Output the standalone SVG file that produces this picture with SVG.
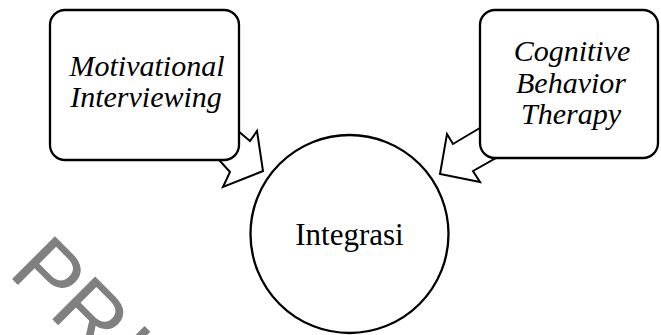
<svg xmlns="http://www.w3.org/2000/svg" width="661" height="335" viewBox="0 0 661 335">
<style>
.box{fill:#fff;stroke:#000;stroke-width:2.3}
.arr{fill:#fff;stroke:#000;stroke-width:2;stroke-linejoin:miter}
.it{font-family:"Liberation Serif","Times New Roman",serif;font-style:italic;font-size:30px;fill:#000;text-anchor:middle}
.rg{font-family:"Liberation Serif","Times New Roman",serif;font-size:31px;fill:#000;text-anchor:middle}
.wm{font-family:"Liberation Sans",Arial,sans-serif;font-size:88px;fill:#808080}
</style>
<rect width="661" height="335" fill="#fff"/>
<text class="wm" transform="translate(7,274) rotate(45)"><tspan x="0">P</tspan><tspan x="57">R</tspan><tspan x="126">I</tspan></text>
<g id="connectors">
<polygon class="arr" points="225,120 250,141 257,131 263,171 223,187 230,172 200,139"/>
<polygon class="arr" points="500,116 453,144 447,134 440,174 480,182 473,171 510,150"/>
</g>
<g id="motivational-interviewing">
<rect class="box" x="50" y="10" width="189" height="150" rx="15"/>
<text class="it" x="147" y="76">Motivational</text>
<text class="it" x="146" y="107">Interviewing</text>
</g>
<g id="cbt">
<rect class="box" x="480" y="10" width="178" height="148" rx="15"/>
<text class="it" x="572" y="61">Cognitive</text>
<text class="it" x="571" y="93">Behavior</text>
<text class="it" x="571" y="124">Therapy</text>
</g>
<g id="integrasi">
<circle class="box" cx="349.5" cy="234" r="99"/>
<text class="rg" x="349.5" y="245">Integrasi</text>
</g>
</svg>
